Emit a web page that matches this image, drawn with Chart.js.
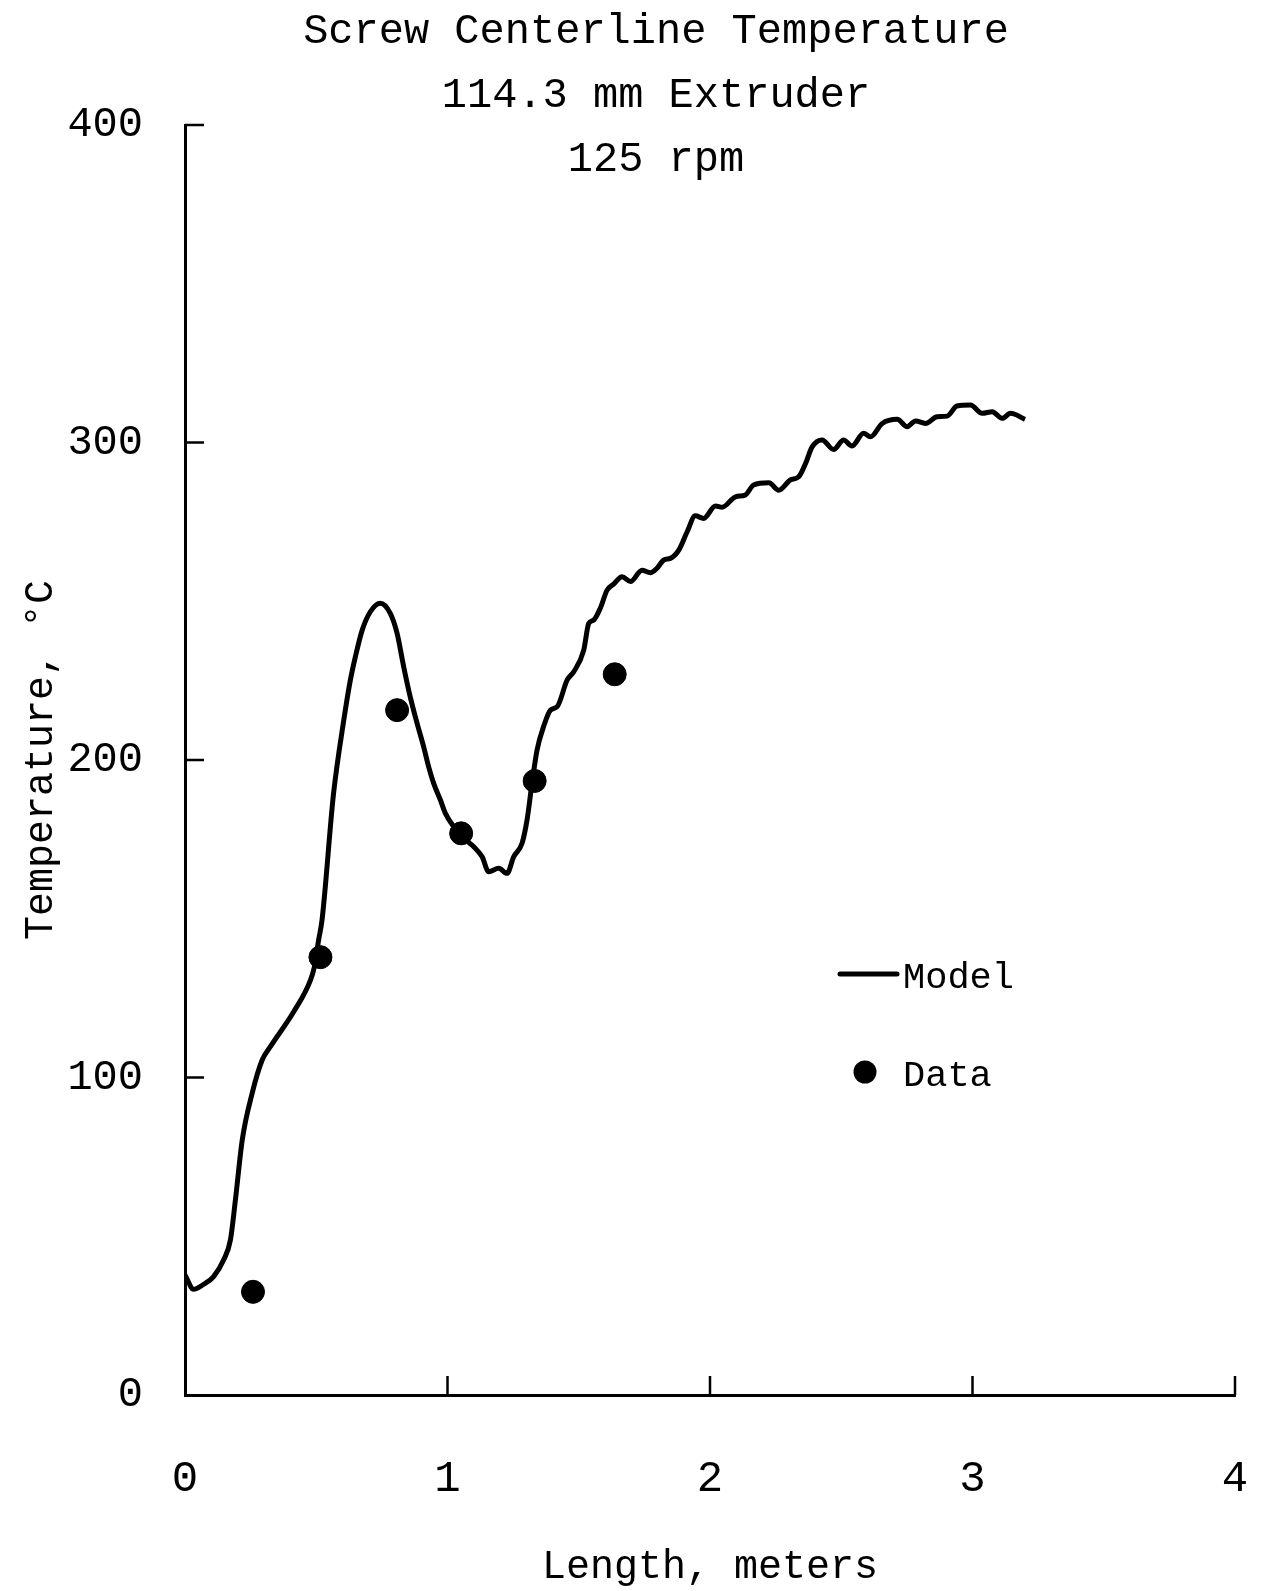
<!DOCTYPE html>
<html lang="en">
<head>
<meta charset="UTF-8">
<title>Screw Centerline Temperature</title>
<style>
  html, body { margin: 0; padding: 0; background: #fff; }
  #chart { display: block; }
</style>
</head>
<body>
<canvas id="chart" width="1261" height="1591"></canvas>
<script src="https://cdn.jsdelivr.net/npm/chart.js"></script>
<script>
const titleLines = ['Screw Centerline Temperature', '114.3 mm Extruder', '125 rpm'];
const xTicks = [0, 1, 2, 3, 4];
const yTicks = [0, 100, 200, 300, 400];

// Model curve (length in m, temperature in C)
const modelX = [0, 0.033, 0.07, 0.109, 0.147, 0.173, 0.192, 0.218, 0.256, 0.294,
  0.325, 0.414, 0.478, 0.493, 0.509, 0.522, 0.566, 0.605, 0.63, 0.649,
  0.675, 0.706, 0.744, 0.782, 0.808, 0.833, 0.858, 0.884, 0.909, 0.928,
  0.947, 0.973, 0.992, 1.024, 1.062, 1.1, 1.132, 1.157, 1.195, 1.227,
  1.252, 1.284, 1.303, 1.322, 1.341, 1.366, 1.392, 1.418, 1.456, 1.481,
  1.519, 1.538, 1.557, 1.582, 1.608, 1.633, 1.665, 1.697, 1.741, 1.773,
  1.798, 1.824, 1.849, 1.881, 1.913, 1.944, 1.976, 2.021, 2.046, 2.097,
  2.135, 2.166, 2.224, 2.262, 2.306, 2.338, 2.364, 2.389, 2.427, 2.471,
  2.509, 2.541, 2.585, 2.611, 2.656, 2.713, 2.751, 2.783, 2.821, 2.865,
  2.903, 2.941, 2.992, 3.037, 3.075, 3.113, 3.145, 3.2];
const modelY = [37.8, 33.3, 34.8, 37.3, 42.5, 48.8, 61.4, 80.3, 95.1, 105.5,
  109.7, 120.7, 130.7, 134.9, 143.3, 149.6, 189.5, 212.6, 225.2, 232.5,
  240.9, 246.7, 249.4, 246.2, 239.9, 229.4, 219.9, 211.6, 204.2, 197.9,
  192.7, 187.4, 183.2, 179, 175.3, 172.7, 169.5, 164.8, 165.9, 164.3,
  169.5, 173.8, 181.1, 192.7, 203.1, 210.5, 215.7, 216.8, 225.2, 227.8,
  234.6, 243, 244.1, 247.8, 253.5, 255.4, 257.7, 256.2, 259.8, 259,
  260.4, 263, 263.5, 266.1, 271.9, 276.9, 276.1, 280, 279.6, 282.9,
  283.5, 286.6, 287.3, 285, 288.2, 289.2, 293.4, 298.6, 300.8, 297.8,
  300.8, 298.9, 302.9, 301.8, 306, 307.3, 305, 306.8, 306, 308.1,
  308.3, 311.5, 311.8, 309.2, 309.7, 307.6, 309.2, 307.3];

// Measured points
const dataX = [0.259, 0.516, 0.808, 1.052, 1.332, 1.637];
const dataY = [32.5, 137.9, 215.7, 176.9, 193.4, 227];

const FONT = '"Liberation Mono", "Courier New", monospace';

const toPoints = (xs, ys) => xs.map((x, i) => ({ x, y: ys[i] }));

// inward ticks, title block and legend, placed like in the original figure
const decorations = {
  id: 'decorations',
  afterDraw(chart) {
    const { ctx, chartArea, scales: { x, y } } = chart;
    ctx.save();
    ctx.strokeStyle = '#000';
    ctx.fillStyle = '#000';
    ctx.lineWidth = 2.5;
    ctx.beginPath();
    yTicks.forEach(v => {
      if (v === 0) return;
      const py = y.getPixelForValue(v);
      ctx.moveTo(chartArea.left, py);
      ctx.lineTo(chartArea.left + 19, py);
    });
    xTicks.forEach(v => {
      if (v === 0) return;
      const px = x.getPixelForValue(v);
      ctx.moveTo(px, chartArea.bottom);
      ctx.lineTo(px, chartArea.bottom - 19);
    });
    ctx.stroke();

    ctx.font = '42px ' + FONT;
    ctx.textAlign = 'center';
    ctx.textBaseline = 'middle';
    titleLines.forEach((t, i) => ctx.fillText(t, 656, 32 + i * 64));

    ctx.lineWidth = 5;
    ctx.lineCap = 'round';
    ctx.beginPath();
    ctx.moveTo(840, 974);
    ctx.lineTo(897, 974);
    ctx.stroke();
    ctx.beginPath();
    ctx.arc(865, 1072, 11.5, 0, Math.PI * 2);
    ctx.fill();
    ctx.font = '37px ' + FONT;
    ctx.textAlign = 'left';
    ctx.fillText('Model', 903, 978);
    ctx.fillText('Data', 903, 1076);
    ctx.restore();
  }
};

new Chart(document.getElementById('chart'), {
  type: 'scatter',
  data: {
    datasets: [
      {
        label: 'Model',
        data: toPoints(modelX, modelY),
        showLine: true,
        borderColor: '#000',
        borderWidth: 5,
        pointRadius: 0,
        cubicInterpolationMode: 'monotone',
        fill: false
      },
      {
        label: 'Data',
        data: toPoints(dataX, dataY),
        showLine: false,
        backgroundColor: '#000',
        borderColor: '#000',
        pointRadius: 11.5,
        pointHoverRadius: 11.5
      }
    ]
  },
  options: {
    responsive: false,
    animation: false,
    events: [],
    layout: { padding: { top: 125, right: 26, bottom: 0, left: 0 } },
    plugins: {
      legend: { display: false },
      tooltip: { enabled: false },
      title: { display: false }
    },
    scales: {
      x: {
        type: 'linear',
        min: 0,
        max: 4,
        afterBuildTicks: s => { s.ticks = xTicks.map(v => ({ value: v })); },
        afterFit: s => { s.height = 196; },
        // grid hidden: tickLength only spaces the labels away from the axis
        grid: { display: false, drawTicks: true, tickLength: 58 },
        border: { display: true, color: '#000', width: 3 },
        ticks: { padding: 0, color: '#000', font: { family: FONT, size: 44 } },
        title: {
          display: true,
          text: 'Length, meters',
          color: '#000',
          font: { family: FONT, size: 40 },
          padding: 0
        }
      },
      y: {
        type: 'linear',
        min: 0,
        max: 400,
        afterBuildTicks: s => { s.ticks = yTicks.map(v => ({ value: v })); },
        afterFit: s => { s.width = 185; },
        grid: { display: false, drawTicks: true, tickLength: 42 },
        border: { display: true, color: '#000', width: 3 },
        ticks: { padding: 0, color: '#000', font: { family: FONT, size: 42 } },
        title: {
          display: true,
          text: 'Temperature, °C',
          color: '#000',
          font: { family: FONT, size: 40 },
          padding: { top: 17, bottom: 0 }
        }
      }
    }
  },
  plugins: [decorations]
});
</script>
</body>
</html>
